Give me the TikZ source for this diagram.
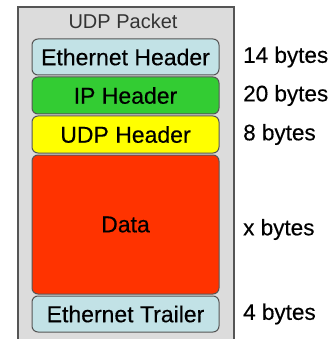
\documentclass[tikz,border=0pt]{standalone}
\usepackage{fontspec}
\setmainfont{Liberation Sans}
\newfontfamily\heavysans[FakeBold=0.35]{Liberation Sans}
\definecolor{framegray}{HTML}{DCDCDC}
\definecolor{edgegray}{HTML}{555555}
\definecolor{ethblue}{HTML}{C2E2E6}
\definecolor{ipgreen}{HTML}{33CC33}
\definecolor{udpyellow}{HTML}{FFFF00}
\definecolor{datared}{HTML}{FF3300}
\begin{document}
\begin{tikzpicture}[x=1pt,y=-1pt,
  layer/.style={draw=edgegray, line width=1pt, rounded corners=6pt,
    minimum width=187pt, inner sep=0pt, outer sep=0pt,
    font=\heavysans\fontsize{23}{27}\selectfont, text=black},
  sizelabel/.style={anchor=west, inner sep=0pt, font=\heavysans\fontsize{22.5}{27}\selectfont}]
  \useasboundingbox (0,0) rectangle (335,339);
  % packet frame, running past the lower edge
  \begin{scope}
    \clip (0,0) rectangle (335,339);
    \draw[draw=edgegray, fill=framegray, line width=1.2pt] (18,7) rectangle (234,350);
  \end{scope}
  \node[text=black!80, font=\fontsize{20}{24}\selectfont, inner sep=0pt] (title) at (123,21) {UDP Packet};
  % protocol layers
  \node[layer, fill=ethblue, minimum height=36pt] (eth) at (125.5,57) {Ethernet Header};
  \node[layer, fill=ipgreen, minimum height=37pt] (ip) at (125.5,95.5) {IP Header};
  \node[layer, fill=udpyellow, minimum height=37pt] (udp) at (125.5,134.5) {UDP Header};
  \node[layer, fill=datared, minimum height=139pt] (data) at (125.5,224.5) {\raisebox{-2pt}{Data}};
  \node[layer, fill=ethblue, minimum height=36pt] (trl) at (125.5,314) {Ethernet Trailer};
  % sizes
  \coordinate (col) at (243,0);
  \node[sizelabel] (seth) at (col |- eth) {14 bytes};
  \node[sizelabel] (sip) at (col |- ip) {20 bytes};
  \node[sizelabel] (sudp) at (col |- udp) {8 bytes};
  \node[sizelabel] (sdata) at ([yshift=-5pt]col |- data) {x bytes};
  \node[sizelabel] (strl) at (col |- trl) {4 bytes};
\end{tikzpicture}
\end{document}
